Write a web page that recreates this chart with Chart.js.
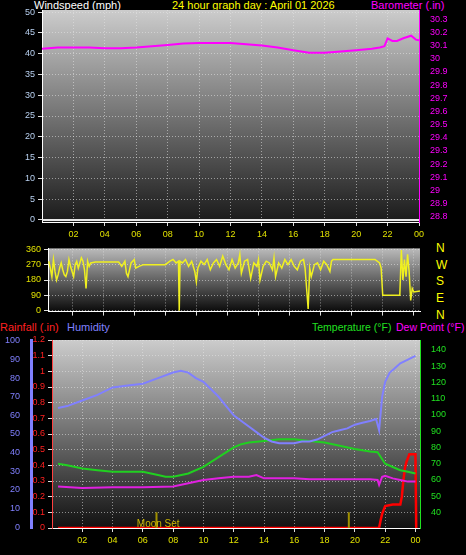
<!DOCTYPE html>
<html><head><meta charset="utf-8">
<script src="https://cdn.jsdelivr.net/npm/chart.js@4.4.1/dist/chart.umd.min.js"></script>
<style>
body{margin:0;background:#000;width:466px;height:555px;overflow:hidden;position:relative;font-family:"Liberation Sans",Arial,sans-serif}
.t{position:absolute;font-size:11px;white-space:nowrap;line-height:12px}
canvas{position:absolute;left:0}
</style></head><body>
<div class="t" style="left:34px;top:-1px;color:#fff">Windspeed (mph)</div>
<div class="t" style="left:172px;top:-1px;color:#ffff00">24 hour graph day : April 01 2026</div>
<div class="t" style="left:371px;top:-1px;color:#ff00ff">Barometer (.in)</div>
<div class="t" style="left:436px;top:240px;color:#ffff00;font-size:12px;line-height:16.7px">N<br>W<br>S<br>E<br>N</div>
<div class="t" style="left:0px;top:321px;color:#ff2020">Rainfall (.in)</div>
<div class="t" style="left:67px;top:321px;color:#8080ff">Humidity</div>
<div class="t" style="left:312px;top:321px;color:#20e020;font-size:10.5px">Temperature (°F)</div>
<div class="t" style="left:396px;top:321px;color:#ff00ff;font-size:10.5px">Dew Point (°F)</div>
<canvas id="c1" width="466" height="245" style="top:0"></canvas>
<canvas id="c2" width="466" height="80" style="top:240px"></canvas>
<canvas id="c3" width="466" height="235" style="top:320px"></canvas>
<script>
const hourTicks=[2,4,6,8,10,12,14,16,18,20,22,24];
const hourLabels=["02","04","06","08","10","12","14","16","18","20","22","00"];

const baroHours=[0,1,2,3,4,5,6,7,8,9,10,11,12,13,14,15,16,17,18,19,20,21,21.5,21.8,22,22.3,22.6,23,23.5,23.8,24];
const baroValues=[30.075,30.085,30.085,30.085,30.08,30.08,30.085,30.095,30.105,30.115,30.12,30.12,30.12,30.11,30.1,30.085,30.065,30.045,30.045,30.055,30.065,30.075,30.085,30.095,30.155,30.135,30.135,30.155,30.175,30.145,30.14];
const windHours=[0,24];
const windValues=[0,0];

const dirHours=[0.5,0.6,0.7,0.8,0.9,1.0,1.1,1.2,1.3,1.4,1.5,1.6,1.7,1.8,1.9,2.0,2.1,2.2,2.3,2.4,2.5,2.6,2.7,2.8,2.9,3.0,3.1,3.2,3.5,4,4.5,5,5.2,5.4,5.5,5.6,5.8,6.0,6.1,6.3,6.6,7,7.5,8,8.3,8.5,8.7,8.85,8.9,8.95,9.1,9.3,9.5,9.7,9.9,10.0,10.1,10.3,10.5,10.7,10.9,11.1,11.3,11.5,11.7,11.9,12.1,12.3,12.5,12.7,12.8,12.9,13.1,13.3,13.5,13.7,13.9,14.0,14.1,14.3,14.5,14.7,14.9,15.0,15.1,15.3,15.5,15.7,15.9,16.1,16.3,16.5,16.7,16.9,17.0,17.1,17.2,17.3,17.4,17.6,17.8,18.0,18.2,18.4,18.6,18.7,18.8,19.5,20.5,21.5,21.8,21.9,22.0,22.5,23.0,23.1,23.2,23.3,23.4,23.5,23.6,23.7,23.8,23.9,24.0,24.4];
const dirValues=[290,250,200,300,230,180,210,250,280,240,210,200,230,300,260,230,200,270,290,250,280,310,290,240,130,290,260,280,285,285,285,285,260,290,220,200,280,300,250,260,270,270,270,270,290,300,280,290,0,290,280,300,260,290,230,170,250,290,270,300,240,280,300,260,320,270,240,300,250,280,330,220,290,300,190,280,260,300,180,260,290,280,240,310,200,280,250,300,270,300,260,240,290,300,250,130,10,250,200,270,280,240,290,270,230,290,300,300,300,300,280,250,90,90,90,90,355,180,300,200,330,230,60,130,110,115];

const humHours=[0.4,1,2,3,4,5,6,7,8,8.5,9,9.5,10,10.5,11,11.5,12,12.5,13,13.5,14,14.5,15,15.5,16,16.5,17,17.5,18,18.5,19,19.5,20,20.5,21,21.4,21.6,21.8,22,22.3,22.6,23,23.5,24];
const humValues=[64,65,68,71,75,76,77,80,83,84,83,80,78,74,70,65,60,57,54,51,48,46,45,45,45,46,46,47,49,51,52,53,55,56,57,58,52,70,78,83,85,88,90,92];
const tempHours=[0.4,1,2,3,4,5,6,7,7.5,8,9,10,11,12,12.5,13,14,15,16,17,18,19,20,21,21.5,22,22.5,23,23.5,24];
const tempValues=[70,69,67,66,65,65,65,63,62,62,64,68,74,80,82,83,84,85,85,84,83,81,79,77.5,77,70,68,66,65,64];
const dewHours=[0.4,2,4,6,8,9,10,11,12,13,13.5,14,15,16,17,18,19,20,21,21.5,21.6,21.8,22,22.5,23,23.5,24];
const dewValues=[56,55,55.5,55.5,56,58,60,61,62,62,63,61,61,61,60.5,60.5,60.5,60.5,60.5,60,57,62,62.5,61,60,59,59];
const rainHours=[0.4,21.6,21.7,21.8,22.0,22.5,23.0,23.1,23.2,23.3,23.4,23.6,24.0,24.05];
const rainValues=[0,0,0.05,0.09,0.14,0.15,0.15,0.2,0.3,0.38,0.42,0.47,0.47,0];
const moonHours=[6.9,19.6];
const moonMarkLabel="Moon Set";

const pts=(xs,ys)=>xs.map((x,i)=>({x,y:ys[i]}));
const bgPlugin=(top,bot)=>({id:'bg',beforeDraw(c){const a=c.chartArea,ctx=c.ctx;const g=ctx.createLinearGradient(0,a.top,0,a.bottom);g.addColorStop(0,top);g.addColorStop(1,bot);ctx.save();ctx.fillStyle=g;ctx.fillRect(a.left,a.top,a.right-a.left,a.bottom-a.top);ctx.restore();}});
const grid={color:'rgba(230,230,230,0.55)',lineWidth:1,drawTicks:true,tickColor:'#ddd',tickLength:4};
const xAxis=(min,max,show)=>({type:'linear',min,max,afterBuildTicks(s){s.ticks=hourTicks.map(v=>({value:v}));},
  ticks:{display:show,color:'#e0e000',font:{size:9,family:'Liberation Sans'},maxRotation:0,autoSkip:false,callback:(v)=>hourLabels[hourTicks.indexOf(v)]},
  grid,border:{dash:[1,2],color:'#fff'}});
const common={responsive:false,animation:false,plugins:{legend:{display:false},tooltip:{enabled:false}},elements:{point:{radius:0},line:{borderWidth:1.5,tension:0}}};
Chart.defaults.font.family='Liberation Sans';

new Chart(document.getElementById('c1'),{type:'line',plugins:[bgPlugin('#cccccc','#1a1a1a')],
 data:{datasets:[
  {data:pts(baroHours,baroValues),borderColor:'#ff00ff',yAxisID:'yb',borderWidth:2},
  {data:pts(windHours,windValues),borderColor:'#e8e8e8',yAxisID:'yw',borderWidth:2}]},
 options:{...common,layout:{padding:{top:10,bottom:2}},scales:{
  x:{...xAxis(0,24,true),afterFit(s){s.height=21;}},
  yw:{position:'left',min:-0.5,max:50.5,afterBuildTicks(s){s.ticks=[0,5,10,15,20,25,30,35,40,45,50].map(v=>({value:v}));},ticks:{color:'#b8d0f0',font:{size:9}},grid,border:{dash:[1,2],color:'#fff'},afterFit(s){s.width=42;}},
  yb:{position:'right',min:28.76,max:30.37,afterBuildTicks(s){s.ticks=[28.8,28.9,29,29.1,29.2,29.3,29.4,29.5,29.6,29.7,29.8,29.9,30,30.1,30.2,30.3].map(v=>({value:v}));},ticks:{color:'#ff00ff',font:{size:9},callback:v=>+v.toFixed(1)+''},grid:{display:false,drawTicks:true,tickColor:'#ff00ff'},border:{color:'#ff00ff'},afterFit(s){s.width=47;}}
 }}});

new Chart(document.getElementById('c2'),{type:'line',plugins:[bgPlugin('#bbbbbb','#0a0a0a')],
 data:{datasets:[{data:pts(dirHours,dirValues),borderColor:'#f0f020',yAxisID:'y',borderWidth:1.5}]},
 options:{...common,layout:{padding:{top:5,bottom:8}},scales:{
  x:{...xAxis(0.45,24.4,false),afterFit(s){s.height=0;}},
  y:{min:-5,max:365,afterBuildTicks(s){s.ticks=[0,90,180,270,360].map(v=>({value:v}));},ticks:{color:'#e0e000',font:{size:9}},grid,border:{dash:[1,2],color:'#fff'},afterFit(s){s.width=48;}},
  y2:{position:'right',display:true,ticks:{display:false},grid:{display:false,drawTicks:false},border:{display:false},afterFit(s){s.width=46;}}
 }}});

new Chart(document.getElementById('c3'),{type:'line',plugins:[bgPlugin('#cccccc','#111111'),{id:'moon',afterDatasetsDraw(c){const a=c.chartArea,ctx=c.ctx,x=c.scales.x;ctx.save();ctx.fillStyle='#c8b400';ctx.font='10px Liberation Sans';ctx.fillText(moonMarkLabel,x.getPixelForValue(5.6),a.bottom-1);ctx.restore();}}],
 data:{datasets:[
  {data:pts(humHours,humValues),borderColor:'#8080ff',yAxisID:'yh',borderWidth:2},
  {data:pts(tempHours,tempValues),borderColor:'#20d020',yAxisID:'yt',borderWidth:2},
  {data:pts(dewHours,dewValues),borderColor:'#e020e0',yAxisID:'yt',borderWidth:2},
  {data:[{x:moonHours[0],y:0},{x:moonHours[0],y:0.1},{x:NaN,y:NaN},{x:moonHours[1],y:0},{x:moonHours[1],y:0.1}],borderColor:'#a09000',yAxisID:'yr',borderWidth:2,spanGaps:false},
  {data:pts(rainHours,rainValues),borderColor:'#ff0000',yAxisID:'yr',borderWidth:2.5}]},
 options:{...common,layout:{padding:{top:20,bottom:0}},scales:{
  x:{...xAxis(0,24.3,true),afterFit(s){s.height=27;}},
  yr:{position:'left',min:0,max:1.2,afterBuildTicks(s){s.ticks=[0,0.1,0.2,0.3,0.4,0.5,0.6,0.7,0.8,0.9,1,1.1,1.2].map(v=>({value:v}));},ticks:{color:'#ff2020',font:{size:9},callback:v=>+v.toFixed(1)+''},grid,border:{dash:[1,2],color:'#ff4040'},afterFit(s){s.width=21;}},
  yh:{position:'left',min:-0.5,max:100.5,afterBuildTicks(s){s.ticks=[0,10,20,30,40,50,60,70,80,90,100].map(v=>({value:v}));},ticks:{color:'#8080ff',font:{size:9}},grid:{display:false,drawTicks:true,tickColor:'#8080ff'},border:{color:'#8080ff',width:3},afterFit(s){s.width=31;}},
  yt:{position:'right',min:30.5,max:146,afterBuildTicks(s){s.ticks=[40,50,60,70,80,90,100,110,120,130,140].map(v=>({value:v}));},ticks:{color:'#20e020',font:{size:9}},grid:{display:false,drawTicks:true,tickColor:'#20e020'},border:{color:'#20e020'},afterFit(s){s.width=46;}}
 }}});
</script>
</body></html>
